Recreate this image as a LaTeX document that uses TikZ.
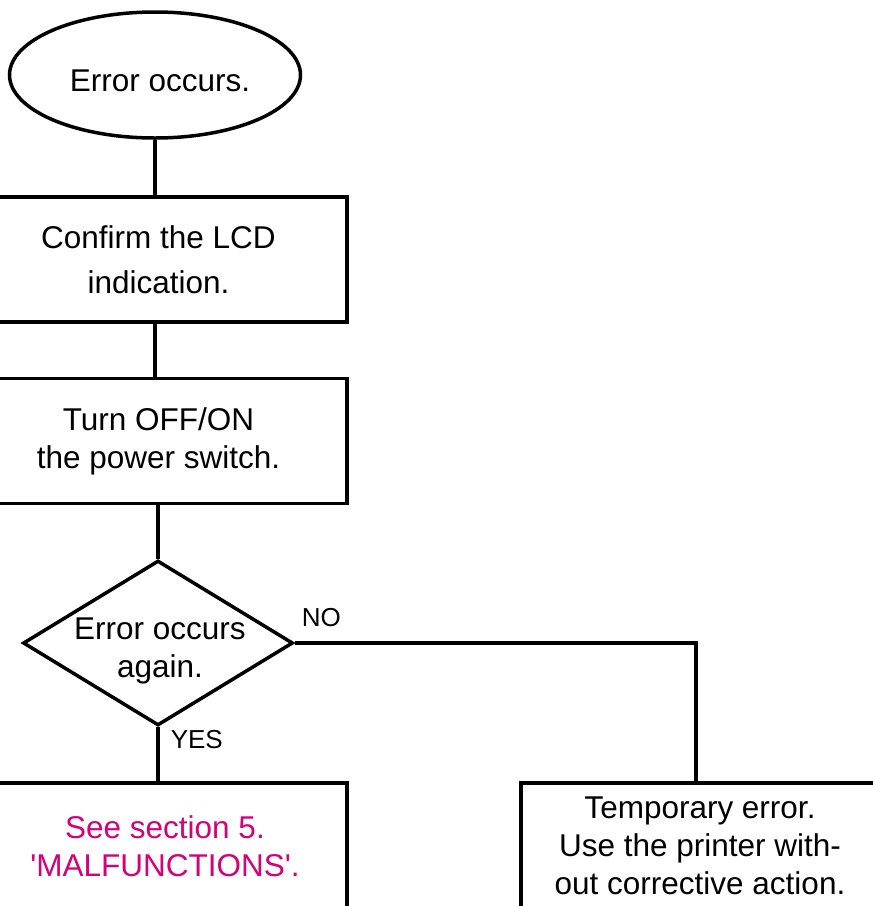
\documentclass[tikz,border=0pt]{standalone}
\usepackage{fontspec}
\setmainfont{Liberation Sans}
\usetikzlibrary{shapes.geometric}
\definecolor{mag}{RGB}{214,0,120}
\begin{document}
\begin{tikzpicture}[x=1pt,y=-1pt,
  line width=3.5pt,
  every node/.style={inner sep=0pt},
  txt/.style={font=\fontsize{31.5}{#1}\selectfont, align=center},
  lbl/.style={font=\fontsize{26}{28}\selectfont},
  boxnode/.style={draw, rectangle, minimum width=377pt, minimum height=125pt}
]
\useasboundingbox (0,0) rectangle (873,906);
\clip (0,0) rectangle (873,906);
\node[draw, ellipse, minimum width=291pt, minimum height=126pt] (start) at (155,75) {};
\node[txt=36, anchor=base] (starttxt) at (160,91) {Error occurs.};
\node[boxnode, txt=45] (confirm) at (158.5,259.5) {Confirm the LCD\\indication.};
\node[boxnode, txt=38] (power) at (158.5,441) {Turn OFF/ON\\the power switch.};
\node[draw, diamond, minimum width=270pt, minimum height=165pt] (again) at (158,643) {};
\node[txt=38] (againtxt) at (160,651) {Error occurs\\again.};
\node[boxnode, minimum width=364pt, minimum height=126pt, txt=38, text=mag] (malf) at (165,846) {See section 5.\\\textquotesingle MALFUNCTIONS\textquotesingle.};
\node[draw, rectangle, minimum width=358pt, minimum height=126pt, txt=38] (temp) at (700,846) {Temporary error.\\Use the printer with-\\out corrective action.};
\node[lbl, anchor=base west] (no) at (300,626) {NO};
\node[lbl, anchor=base west] (yes) at (169,748) {YES};
\coordinate (corner) at (696,643);
\draw (start.south) -- (start.south |- confirm.north);
\draw (start.south |- confirm.south) -- (start.south |- power.north);
\draw (again.north |- power.south) -- (again.north);
\draw (again.south) -- (again.south |- malf.north);
\draw (again.east) -- (corner) -- (corner |- temp.north);
\end{tikzpicture}
\end{document}
